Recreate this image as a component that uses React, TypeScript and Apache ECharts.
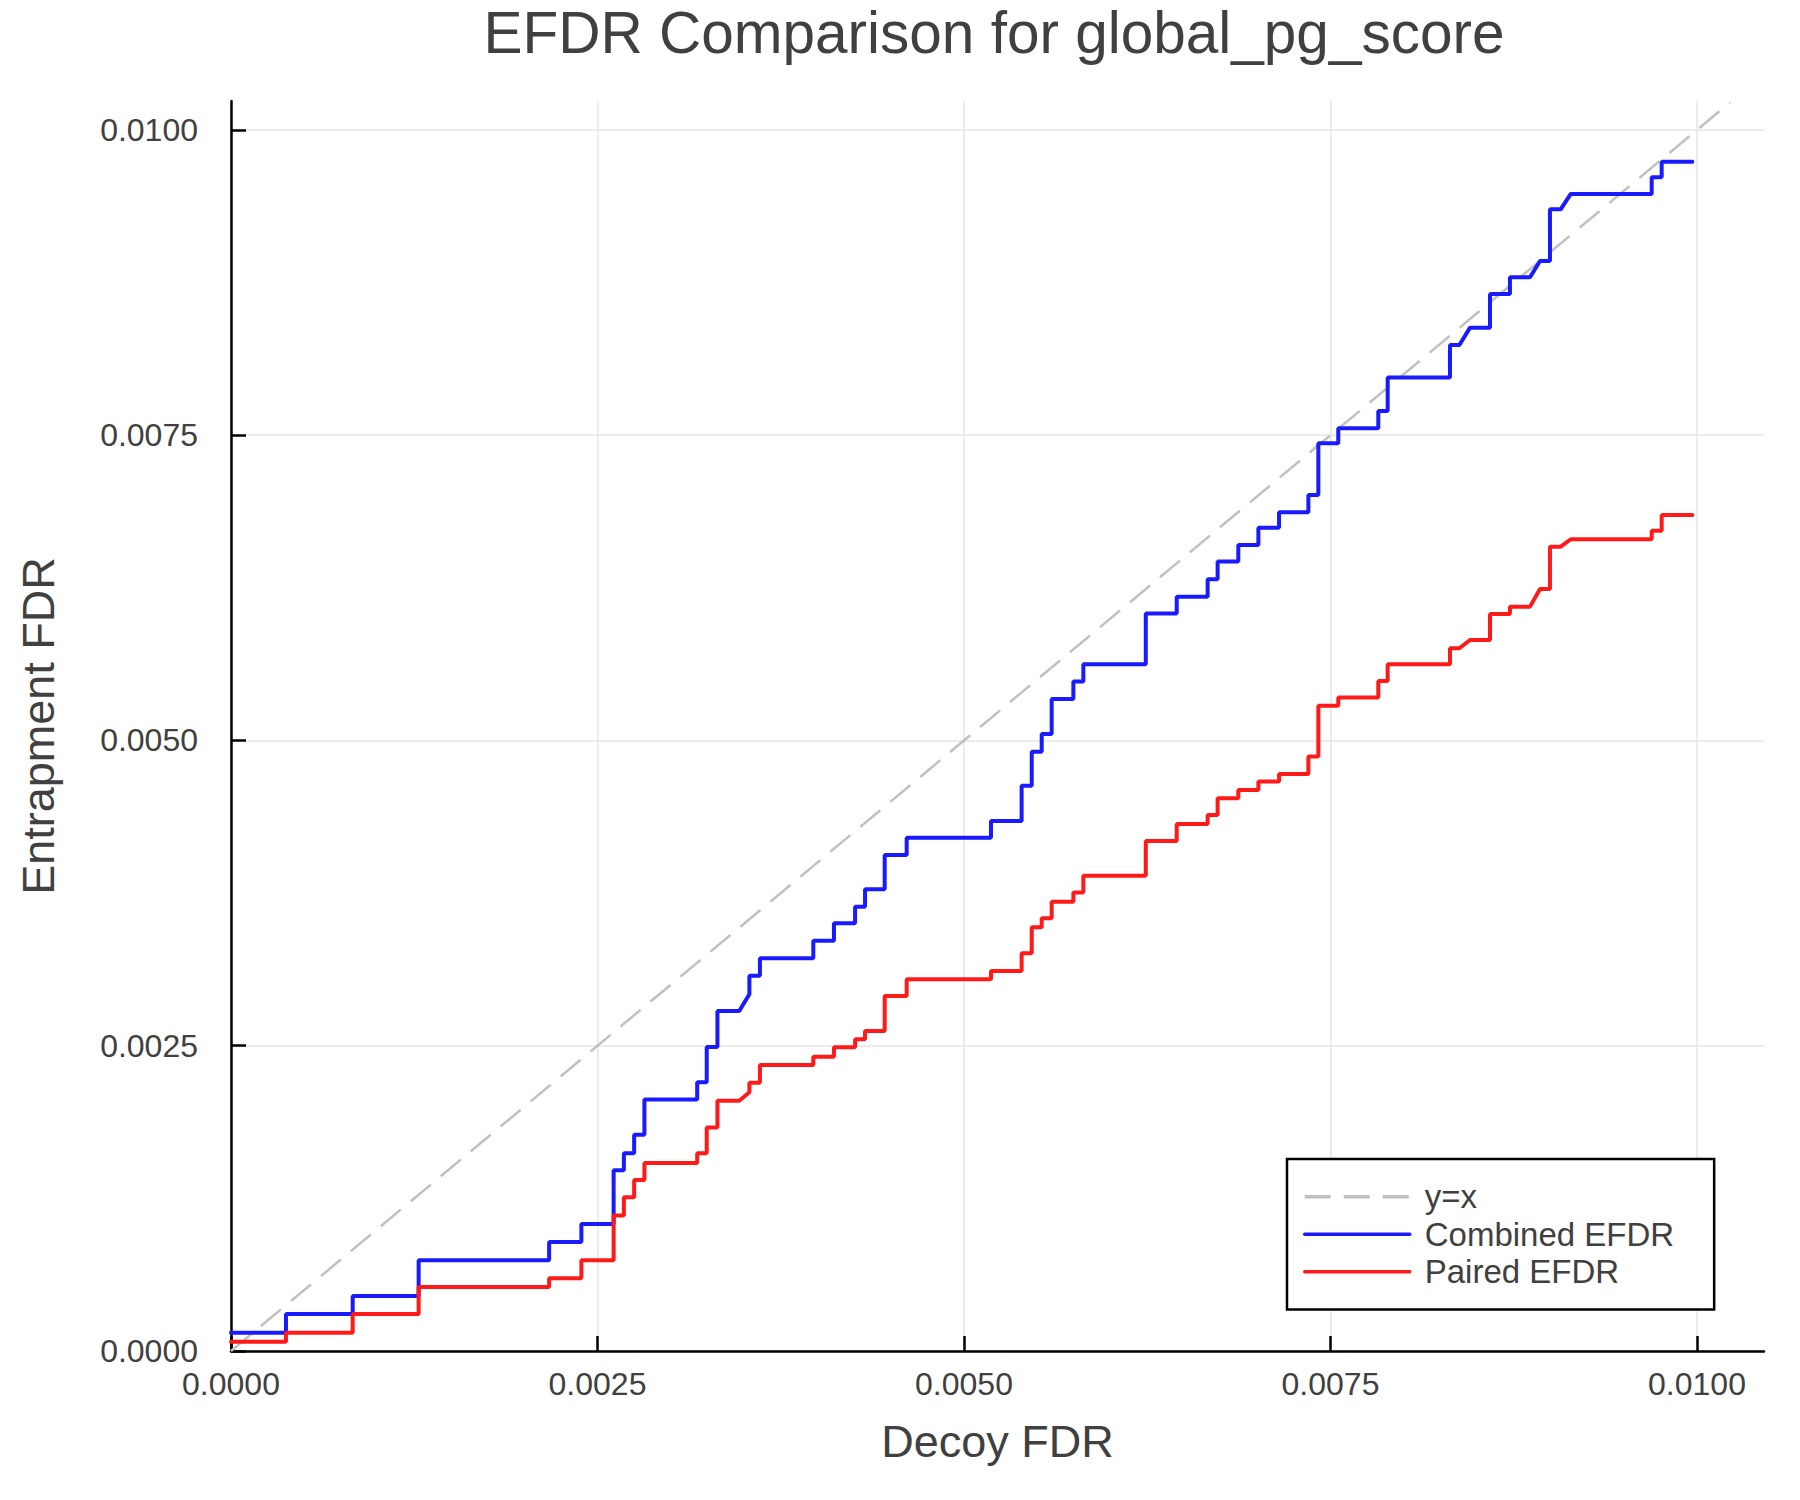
import React, { useEffect, useRef } from "react";
import * as echarts from "echarts";

// vertices of the two EFDR curves (shared decoy FDR axis)
const decoyFdr = [
  0, 0.000375, 0.000375, 0.00083, 0.00083, 0.00128, 0.00128, 0.00217, 0.00217, 0.00239,
  0.00239, 0.00261, 0.00261, 0.00268, 0.00268, 0.00275, 0.00275, 0.00282, 0.00282, 0.00318,
  0.00318, 0.003245, 0.003245, 0.003318, 0.003318, 0.003467, 0.003536, 0.003536, 0.003608, 0.003608,
  0.003972, 0.003972, 0.004113, 0.004113, 0.004257, 0.004257, 0.004325, 0.004325, 0.004459, 0.004459,
  0.004609, 0.004609, 0.005184, 0.005184, 0.005393, 0.005393, 0.005462, 0.005462, 0.00553, 0.00553,
  0.005598, 0.005598, 0.005746, 0.005746, 0.005814, 0.005814, 0.00624, 0.00624, 0.006451, 0.006451,
  0.006662, 0.006662, 0.00673, 0.00673, 0.006871, 0.006871, 0.007008, 0.007008, 0.007149, 0.007149,
  0.007349, 0.007349, 0.007417, 0.007417, 0.007553, 0.007553, 0.007826, 0.007826, 0.00789, 0.00789,
  0.008315, 0.008315, 0.008379, 0.008452, 0.008588, 0.008588, 0.008724, 0.008724, 0.008861, 0.008929,
  0.008997, 0.008997, 0.00907, 0.009139, 0.009691, 0.009691, 0.009759, 0.009759, 0.009968,
];

const combinedEfdr = [
  0.00015, 0.00015, 0.000303, 0.000303, 0.00045, 0.00045, 0.000743, 0.000743, 0.000893, 0.000893,
  0.00104, 0.00104, 0.00148, 0.00148, 0.00162, 0.00162, 0.00177, 0.00177, 0.00206, 0.00206,
  0.0022, 0.0022, 0.00249, 0.00249, 0.002785, 0.002785, 0.002921, 0.003074, 0.003074, 0.003216,
  0.003216, 0.00336, 0.00336, 0.003503, 0.003503, 0.003639, 0.003639, 0.003781, 0.003781, 0.004062,
  0.004062, 0.004204, 0.004204, 0.004341, 0.004341, 0.00463, 0.00463, 0.004908, 0.004908, 0.005053,
  0.005053, 0.00534, 0.00534, 0.005482, 0.005482, 0.005624, 0.005624, 0.00604, 0.00604, 0.006178,
  0.006178, 0.00632, 0.00632, 0.006465, 0.006465, 0.006601, 0.006601, 0.006743, 0.006743, 0.006869,
  0.006869, 0.00701, 0.00701, 0.007434, 0.007434, 0.007557, 0.007557, 0.007699, 0.007699, 0.007972,
  0.007972, 0.008239, 0.008239, 0.008381, 0.008381, 0.008657, 0.008657, 0.008793, 0.008793, 0.008927,
  0.008927, 0.00935, 0.00935, 0.009476, 0.009476, 0.009612, 0.009612, 0.00974, 0.00974,
];

const pairedEfdr = [
  0.000076, 0.000076, 0.00015, 0.00015, 0.000303, 0.000303, 0.000524, 0.000524, 0.000596, 0.000596,
  0.000743, 0.000743, 0.00111, 0.00111, 0.00126, 0.00126, 0.0014, 0.0014, 0.00154, 0.00154,
  0.00162, 0.00162, 0.00183, 0.00183, 0.00205, 0.00205, 0.002119, 0.002197, 0.002197, 0.002342,
  0.002342, 0.00241, 0.00241, 0.002487, 0.002487, 0.002553, 0.002553, 0.002621, 0.002621, 0.002907,
  0.002907, 0.003044, 0.003044, 0.003112, 0.003112, 0.003257, 0.003257, 0.00347, 0.00347, 0.003544,
  0.003544, 0.00368, 0.00368, 0.003754, 0.003754, 0.003893, 0.003893, 0.004177, 0.004177, 0.004316,
  0.004316, 0.00439, 0.00439, 0.004527, 0.004527, 0.004595, 0.004595, 0.004663, 0.004663, 0.004726,
  0.004726, 0.004868, 0.004868, 0.005285, 0.005285, 0.005351, 0.005351, 0.005487, 0.005487, 0.005624,
  0.005624, 0.005755, 0.005755, 0.005823, 0.005823, 0.006036, 0.006036, 0.006096, 0.006096, 0.006241,
  0.006241, 0.006587, 0.006587, 0.006648, 0.006648, 0.006718, 0.006718, 0.006847, 0.006847,
];

// y = x reference line end points
const identityExtent = [0, 0.010225];

const tickValues = [0, 0.0025, 0.005, 0.0075, 0.01];
const seriesNames = ["y=x", "Combined EFDR", "Paired EFDR"];

const FONT = "'Liberation Sans', Arial, Helvetica, sans-serif";
const TEXT = "#404040";

const fmt = (v: number) =>
  Math.abs(v / 0.0025 - Math.round(v / 0.0025)) < 1e-6 ? v.toFixed(4) : "";

const makeAxis = (max: number, extra: any) => ({
  type: "value",
  min: 0,
  max,
  interval: 0.0025,
  nameLocation: "middle",
  nameTextStyle: { fontSize: 45, color: TEXT, fontFamily: FONT },
  axisLine: { show: true, lineStyle: { color: "#000", width: 2.5 } },
  axisTick: {
    show: true,
    inside: true,
    length: 15,
    customValues: tickValues,
    lineStyle: { color: "#000", width: 2.5 },
  },
  splitLine: {
    show: true,
    lineStyle: {
      color: ["#e6e6e6", "#e6e6e6", "#e6e6e6", "#e6e6e6", "#e6e6e6", "rgba(0,0,0,0)"],
      width: 1.5,
    },
  },
  ...extra,
});

const App = () => {
  const chartRef = useRef<HTMLDivElement>(null);

  useEffect(() => {
    if (!chartRef.current) return;
    const chart = echarts.init(chartRef.current, undefined, { renderer: "svg" });

    const option = {
      animation: false,
      backgroundColor: "#fff",
      title: {
        text: "EFDR Comparison for global_pg_score",
        left: 994,
        top: 3,
        padding: 0,
        textAlign: "center",
        textStyle: { fontSize: 58.5, fontWeight: "normal", color: TEXT, fontFamily: FONT },
      },
      grid: { left: 231, right: 36, top: 101, bottom: 149, containLabel: false },
      xAxis: makeAxis(0.010457, {
        name: "Decoy FDR",
        nameGap: 68,
        axisLabel: {
          customValues: tickValues,
          formatter: fmt,
          fontSize: 32,
          color: TEXT,
          fontFamily: FONT,
          margin: 17,
        },
      }),
      yAxis: makeAxis(0.010237, {
        name: "Entrapment FDR",
        nameGap: 170,
        axisLabel: {
          customValues: tickValues,
          formatter: fmt,
          fontSize: 32,
          color: TEXT,
          fontFamily: FONT,
          margin: 33,
        },
      }),
      legend: {
        data: seriesNames,
        orient: "vertical",
        left: 1287,
        top: 1159,
        itemWidth: 105,
        itemHeight: 14,
        itemGap: 0,
        padding: [19, 40, 19, 16],
        backgroundColor: "#fff",
        borderColor: "#000",
        borderWidth: 2.5,
        selectedMode: false,
        itemStyle: { opacity: 0 },
        lineStyle: { width: 3.5 },
        textStyle: {
          fontSize: 33,
          color: TEXT,
          fontFamily: FONT,
          lineHeight: 37.5,
          padding: [0, 0, 0, 10],
        },
      },
      series: [
        {
          name: seriesNames[0],
          type: "line",
          symbol: "none",
          data: identityExtent.map((v) => [v, v]),
          lineStyle: { color: "#c0c0c0", width: 2.5, type: [26, 13] },
          itemStyle: { color: "#c0c0c0" },
        },
        {
          name: seriesNames[1],
          type: "line",
          symbol: "none",
          data: decoyFdr.map((x, i) => [x, combinedEfdr[i]]),
          lineStyle: { color: "#1a1aff", width: 4, cap: "round" },
          itemStyle: { color: "#1a1aff" },
        },
        {
          name: seriesNames[2],
          type: "line",
          symbol: "none",
          data: decoyFdr.map((x, i) => [x, pairedEfdr[i]]),
          lineStyle: { color: "#ff1a1a", width: 4, cap: "round" },
          itemStyle: { color: "#ff1a1a" },
        },
      ],
    };

    chart.setOption(option as any);
    return () => {
      chart.dispose();
    };
  }, []);

  return (
    <div
      ref={chartRef}
      style={{ position: "fixed", left: 0, top: 0, width: 1800, height: 1500 }}
    />
  );
};

export default App;
